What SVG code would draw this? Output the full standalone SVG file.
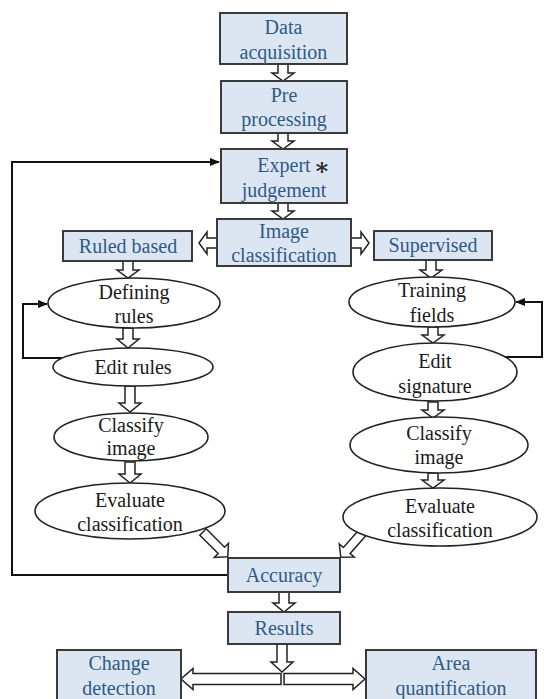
<svg xmlns="http://www.w3.org/2000/svg" width="544" height="699" viewBox="0 0 544 699">
<style>
.box{fill:#dce6f2;stroke:#3a3a3a;stroke-width:2}
.ell{fill:#fff;stroke:#222;stroke-width:1.6}
.bt{fill:#2e5a87;text-anchor:middle}
.et{fill:#1a1a1a;text-anchor:middle}
.ba{fill:#fff;stroke:#222;stroke-width:1.5;stroke-linejoin:miter}
.ln{fill:none;stroke:#111;stroke-width:2}
</style>
<defs>
<marker id="ah" markerWidth="10" markerHeight="10" refX="9" refY="5" orient="auto" markerUnits="userSpaceOnUse">
<path d="M0,1 L10,5 L0,9 Z" fill="#111"/>
</marker>
</defs>
<g id="connectors">
<path class="ln" d="M229,575 H12 V162 H219" marker-end="url(#ah)"/>
<path class="ln" d="M62,358 H23 V304 H47" marker-end="url(#ah)"/>
<path class="ln" d="M505,357 H542 V302 H516" marker-end="url(#ah)"/>
<path class="ba" d="M278,64 V73 H272 L283,81 L294,73 H288 V64 Z"/>
<path class="ba" d="M278,133 V141 H272 L283,149 L294,141 H288 V133 Z"/>
<path class="ba" d="M278,203 V211 H272 L283,219 L294,211 H288 V203 Z"/>
<path class="ba" d="M217,238 H207 V232 L199,243 L207,254 V248 H217 Z"/>
<path class="ba" d="M351,238 H361 V232 L369,243 L361,254 V248 H351 Z"/>
<path class="ba" d="M123,261 V270 H117 L128,278 L139,270 H133 V261 Z"/>
<path class="ba" d="M123,328 V339 H117 L128,348 L139,339 H133 V328 Z"/>
<path class="ba" d="M125,386 V403 H119 L130,412 L141,403 H135 V386 Z"/>
<path class="ba" d="M125,462 V474 H119 L130,483 L141,474 H135 V462 Z"/>
<path class="ba" d="M426,260 V270 H420 L431,278 L442,270 H436 V260 Z"/>
<path class="ba" d="M428,327 V335 H422 L433,343 L444,335 H438 V327 Z"/>
<path class="ba" d="M428,402 V410 H422 L433,418 L444,410 H438 V402 Z"/>
<path class="ba" d="M428,473 V480 H422 L433,488 L444,480 H438 V473 Z"/>
<path class="ba" d="M279,592 V603 H273 L284,612 L295,603 H289 V592 Z"/>
<path class="ba" d="M277,644 V662 H271 L282,672 L293,662 H287 V644 Z"/>
<path class="ba" d="M281,673.5 H193 V668.5 L181,679 L193,689.5 V684.5 H281 Z"/>
<path class="ba" d="M284,673.5 H353 V668.5 L365,679 L353,689.5 V684.5 H284 Z"/>
<path class="ba" transform="translate(203,532) rotate(45)" d="M0,-4.5 H26 V-10 L35,0 L26,10 V4.5 H0 Z"/>
<path class="ba" transform="translate(364,531) rotate(131.5)" d="M0,-4.5 H26 V-10 L35,0 L26,10 V4.5 H0 Z"/>
</g>
<g font-family="'Liberation Serif', 'DejaVu Serif', serif" font-size="20">
<g id="data-acquisition"><rect class="box" x="220" y="13" width="127" height="51"/><text class="bt" x="283.5" y="34">Data</text><text class="bt" x="283.5" y="59">acquisition</text></g>
<g id="pre-processing"><rect class="box" x="221" y="81" width="126" height="52"/><text class="bt" x="284" y="102">Pre</text><text class="bt" x="284" y="126">processing</text></g>
<g id="expert-judgement"><rect class="box" x="221" y="149" width="126" height="54"/><text class="bt" x="284" y="172">Expert</text><text x="322" y="175" fill="#2a2a2a" font-weight="bold" font-size="24" text-anchor="middle">∗</text><text class="bt" x="284" y="197">judgement</text></g>
<g id="image-classification"><rect class="box" x="217" y="219" width="134" height="47"/><text class="bt" x="284" y="238">Image</text><text class="bt" x="284" y="262">classification</text></g>
<g id="ruled-based"><rect class="box" x="63" y="231" width="129" height="30"/><text class="bt" x="128" y="253">Ruled based</text></g>
<g id="supervised"><rect class="box" x="374" y="231" width="118" height="29"/><text class="bt" x="433" y="252">Supervised</text></g>
<g id="defining-rules"><ellipse class="ell" cx="134" cy="303" rx="86" ry="25"/><text class="et" x="134" y="299">Defining</text><text class="et" x="134" y="323">rules</text></g>
<g id="edit-rules"><ellipse class="ell" cx="133" cy="367" rx="80" ry="19"/><text class="et" x="133" y="374">Edit rules</text></g>
<g id="classify-image-left"><ellipse class="ell" cx="131" cy="437" rx="77" ry="24"/><text class="et" x="131" y="432">Classify</text><text class="et" x="131" y="455">image</text></g>
<g id="evaluate-left"><ellipse class="ell" cx="130" cy="511" rx="95" ry="28"/><text class="et" x="130" y="507">Evaluate</text><text class="et" x="130" y="531">classification</text></g>
<g id="training-fields"><ellipse class="ell" cx="432" cy="302" rx="83" ry="25"/><text class="et" x="432" y="297">Training</text><text class="et" x="432" y="322">fields</text></g>
<g id="edit-signature"><ellipse class="ell" cx="435" cy="372" rx="82" ry="29"/><text class="et" x="435" y="368">Edit</text><text class="et" x="435" y="393">signature</text></g>
<g id="classify-image-right"><ellipse class="ell" cx="439" cy="445" rx="89" ry="28"/><text class="et" x="439" y="440">Classify</text><text class="et" x="439" y="464">image</text></g>
<g id="evaluate-right"><ellipse class="ell" cx="440" cy="517" rx="97" ry="29"/><text class="et" x="440" y="513">Evaluate</text><text class="et" x="440" y="537">classification</text></g>
<g id="accuracy"><rect class="box" x="228" y="558" width="112" height="34"/><text class="bt" x="284" y="582">Accuracy</text></g>
<g id="results"><rect class="box" x="228" y="612" width="112" height="32"/><text class="bt" x="284" y="635">Results</text></g>
<g id="change-detection"><rect class="box" x="57" y="650" width="124" height="60"/><text class="bt" x="119" y="670">Change</text><text class="bt" x="119" y="695">detection</text></g>
<g id="area-quantification"><rect class="box" x="366" y="650" width="170" height="60"/><text class="bt" x="451" y="670">Area</text><text class="bt" x="451" y="695">quantification</text></g>
</g>
</svg>
